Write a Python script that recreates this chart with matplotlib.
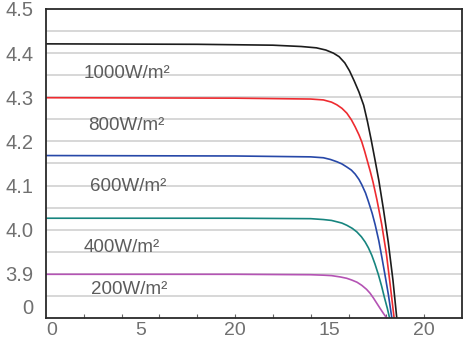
import matplotlib
matplotlib.use("Agg")
import matplotlib.pyplot as plt

# I-V curves of a PV module at five irradiance levels (voltage, current)
v_1000 = [0, 8.0, 12.0, 13.5, 14.3, 14.8, 15.2, 15.5, 15.8, 16.05, 16.3, 16.55, 16.8,
          17.0, 17.2, 17.4, 17.6, 17.85, 18.1, 18.35, 18.55]
i_1000 = [6.21, 6.20, 6.18, 6.15, 6.12, 6.07, 6.00, 5.92, 5.78, 5.60, 5.37, 5.12, 4.82,
          4.45, 4.03, 3.58, 3.12, 2.45, 1.72, 0.85, 0.0]

v_800 = [0, 10.0, 14.0, 14.67, 15.1, 15.38, 15.65, 15.91, 16.15, 16.35, 16.55, 16.7,
         16.85, 17.0, 17.15, 17.3, 17.5, 17.75, 18.0, 18.2, 18.41]
i_800 = [4.99, 4.98, 4.96, 4.94, 4.89, 4.83, 4.75, 4.64, 4.49, 4.33, 4.15, 3.99,
         3.78, 3.55, 3.32, 3.07, 2.68, 2.13, 1.46, 0.76, 0.0]

v_600 = [0, 10.0, 14.0, 14.67, 15.05, 15.38, 15.65, 15.91, 16.15, 16.35, 16.55, 16.7,
         16.9, 17.05, 17.25, 17.41, 17.6, 17.76, 17.95, 18.11, 18.29]
i_600 = [3.68, 3.67, 3.65, 3.63, 3.59, 3.54, 3.49, 3.42, 3.35, 3.26, 3.14, 3.02,
         2.83, 2.64, 2.37, 2.11, 1.75, 1.38, 0.92, 0.52, 0.0]

v_400 = [0, 10.0, 14.0, 14.67, 15.1, 15.38, 15.65, 15.91, 16.2, 16.44, 16.68, 16.88,
         17.05, 17.23, 17.4, 17.58, 17.75, 17.9, 18.05, 18.17]
i_400 = [2.26, 2.26, 2.25, 2.23, 2.21, 2.18, 2.15, 2.10, 2.03, 1.95, 1.84, 1.72,
         1.59, 1.42, 1.22, 0.98, 0.72, 0.46, 0.22, 0.0]

v_200 = [0, 10.0, 14.0, 14.67, 15.1, 15.56, 15.9, 16.17, 16.45, 16.7, 16.95, 17.14,
         17.32, 17.5, 17.68, 17.85, 18.02]
i_200 = [0.99, 0.99, 0.98, 0.97, 0.96, 0.93, 0.90, 0.86, 0.81, 0.74, 0.65, 0.56,
         0.45, 0.33, 0.21, 0.10, 0.0]

irradiance_labels = ["1000W/m²", "800W/m²", "600W/m²", "400W/m²", "200W/m²"]

y_tick_values = [0, 1, 2, 3, 4, 5, 6, 7]
y_tick_labels = ["0", "3.9", "4.0", "4.1", "4.2", "4.3", "4.4", "4.5"]
x_tick_values = [0, 5, 10, 15, 20]
x_tick_labels = ["0", "5", "20", "15", "20"]

curves = [(v_1000, i_1000), (v_800, i_800), (v_600, i_600), (v_400, i_400), (v_200, i_200)]
colors = ["#1c1c1c", "#ee2b30", "#2748a8", "#17857f", "#b453b4"]
# text anchor points (voltage, current) for the irradiance captions
label_xy = [(4.29, 5.43), (4.23, 4.26), (4.34, 2.88), (4.02, 1.50), (4.39, 0.54)]

plt.rcParams["font.family"] = ["Liberation Sans", "DejaVu Sans"]

fig = plt.figure(figsize=(4.64, 3.43), dpi=100)
ax = fig.add_axes([0.0991, 0.0729, 0.8966, 0.9009])

ax.set_xlim(0, 22)
ax.set_ylim(0, 7)

# horizontal grid every half unit
for k in range(1, 14):
    ax.axhline(k * 0.5, color="#cdcdcd", linewidth=1.1, zorder=1)

for (v, i), c in zip(curves, colors):
    ax.plot(v, i, color=c, linewidth=1.2, zorder=3,
            solid_joinstyle="round", solid_capstyle="round")

for (x, y), txt in zip(label_xy, irradiance_labels):
    ax.text(x, y, txt, ha="center", va="baseline", fontsize=13.5,
            color="#5c5c5c", zorder=4)

ax.set_yticks(y_tick_values)
ax.set_yticklabels(y_tick_labels)
ax.set_xticks(x_tick_values)
ax.set_xticklabels(x_tick_labels)
ax.set_xticks(range(2, 22, 2), minor=True)
ax.xaxis.remove_overlapping_locs = False

ax.tick_params(axis="y", length=0, pad=9, labelsize=14.5, labelcolor="#707070")
ax.tick_params(axis="x", which="major", length=0, pad=3, labelsize=14, labelcolor="#707070")
ax.tick_params(axis="x", which="minor", direction="in", length=3, width=0.8, color="#666666")

ax.get_yticklabels()[0].set_va("bottom")
ax.get_xticklabels()[0].set_ha("left")

for s in ax.spines.values():
    s.set_color("#2a2a2a")
    s.set_linewidth(1.3)
    s.set_zorder(5)

fig.savefig("out.png", dpi=100)
